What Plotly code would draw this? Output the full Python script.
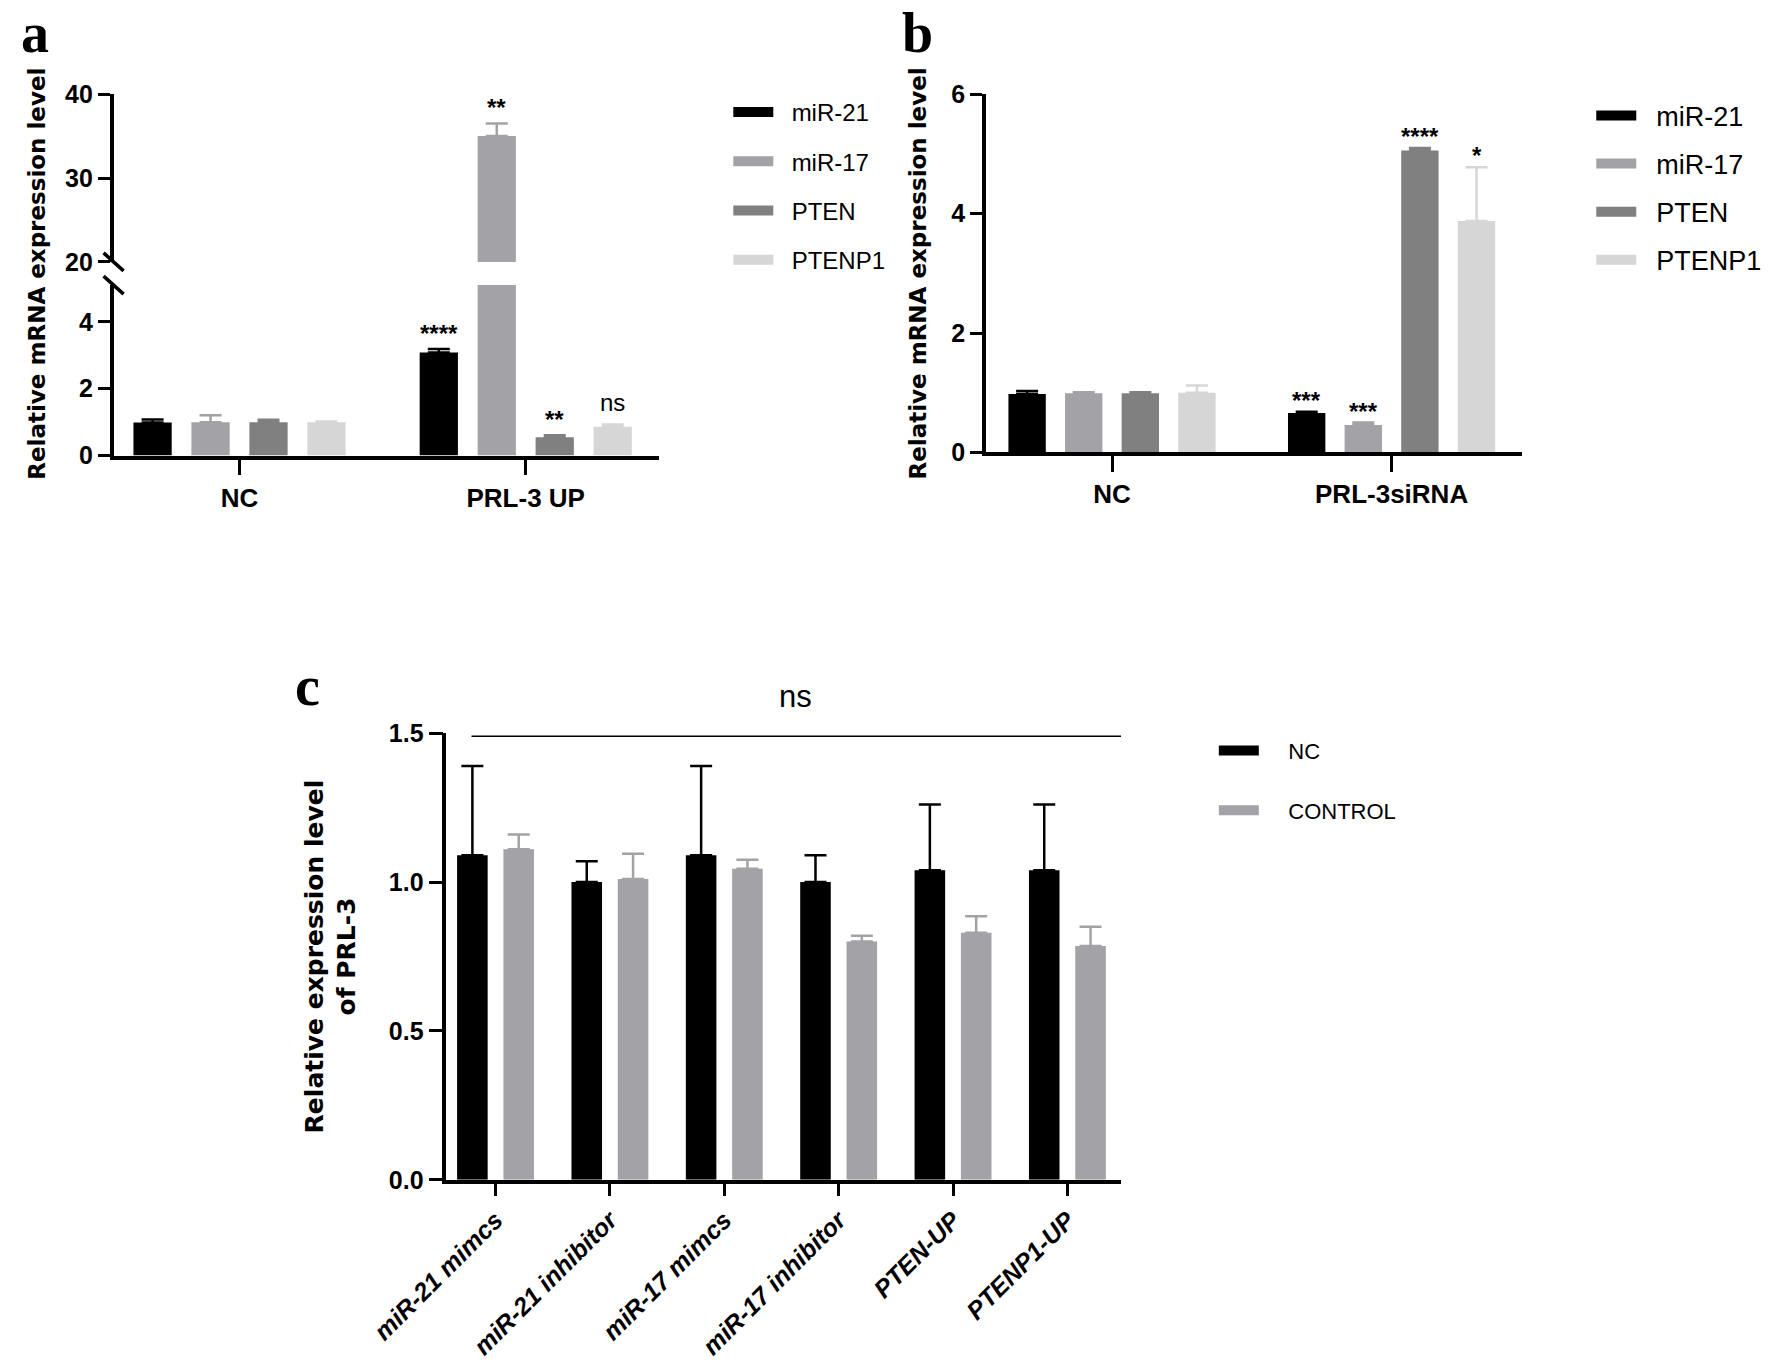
import plotly.graph_objects as go

# ---- panel a: PRL-3 overexpression ----
a_groups = ["NC", "PRL-3 UP"]
genes = ["miR-21", "miR-17", "PTEN", "PTENP1"]
a_mir21 = [0.99, 3.08]
a_mir21_err = [0.09, 0.11]
a_mir17 = [1.00, 35.0]
a_mir17_err = [0.21, 1.5]
a_pten = [1.00, 0.55]
a_pten_err = [0.07, 0.06]
a_ptenp1 = [1.00, 0.86]
a_ptenp1_err = [0.02, 0.07]
a_stars = ["****", "**", "**", "ns"]  # PRL-3 UP vs NC

# ---- panel b: PRL-3 knockdown ----
b_groups = ["NC", "PRL-3siRNA"]
b_mir21 = [0.98, 0.66]
b_mir21_err = [0.05, 0.02]
b_mir17 = [0.99, 0.46]
b_mir17_err = [0.02, 0.04]
b_pten = [0.99, 5.06]
b_pten_err = [0.02, 0.04]
b_ptenp1 = [1.00, 3.88]
b_ptenp1_err = [0.12, 0.90]
b_stars = ["***", "***", "****", "*"]

# ---- panel c: PRL-3 level ----
c_groups = ["miR-21 mimcs", "miR-21 inhibitor", "miR-17 mimcs",
            "miR-17 inhibitor", "PTEN-UP", "PTENP1-UP"]
c_nc = [1.09, 1.00, 1.09, 1.00, 1.04, 1.04]
c_nc_err = [0.30, 0.07, 0.30, 0.09, 0.22, 0.22]
c_ctrl = [1.11, 1.01, 1.045, 0.80, 0.83, 0.785]
c_ctrl_err = [0.05, 0.085, 0.03, 0.02, 0.055, 0.065]

gene_colors = ["#000000", "#a2a2a7", "#808080", "#d6d6d6"]
c_colors = ["#000000", "#a2a2a7"]

BARGAP = 0.19
GROUPGAP = 0.34
FONT = "Liberation Sans, Arial, sans-serif"
WIDE = "DejaVu Sans, Verdana, sans-serif"

fig = go.Figure()


def add_bars(groups, vals, errs, names, colors, xa, ya, legend, pad="\u00a0\u00a0",
             showlegend=True):
    for v, e, n, c in zip(vals, errs, names, colors):
        fig.add_trace(go.Bar(
            x=groups, y=v, name=n, marker=dict(color=c, line=dict(width=0)),
            error_y=dict(type="data", array=e, arrayminus=[0] * len(e), symmetric=False,
                         color=c, thickness=2.5, width=11),
            xaxis=xa, yaxis=ya, showlegend=False, legendgroup=legend + n))
        if showlegend:
            # wide swatch for the legend
            fig.add_trace(go.Scatter(
                x=[None], y=[None], mode="lines", name=pad + n, line=dict(color=c, width=14),
                legend=legend, legendgroup=legend + n, xaxis=xa, yaxis=ya))


a_vals = [a_mir21, a_mir17, a_pten, a_ptenp1]
a_errs = [a_mir21_err, a_mir17_err, a_pten_err, a_ptenp1_err]
add_bars(a_groups, a_vals, a_errs, genes, gene_colors, "x", "y", "legend")
add_bars(a_groups, a_vals, a_errs, genes, gene_colors, "x", "y2", "legend", showlegend=False)

b_vals = [b_mir21, b_mir17, b_pten, b_ptenp1]
b_errs = [b_mir21_err, b_mir17_err, b_pten_err, b_ptenp1_err]
add_bars(b_groups, b_vals, b_errs, genes, gene_colors, "x2", "y3", "legend2")

add_bars(c_groups, [c_nc, c_ctrl], [c_nc_err, c_ctrl_err], ["NC", "CONTROL"], c_colors,
         "x3", "y4", "legend3", pad="\u00a0\u00a0\u00a0\u00a0")

axis_common = dict(showgrid=False, zeroline=False, showline=True, linecolor="black",
                   linewidth=3.5, ticks="outside", tickwidth=3, tickcolor="black",
                   automargin=False)
tick_font = dict(family=FONT, size=25, color="black", weight="bold")

fig.update_layout(
    template="none",
    width=1772, height=1364, autosize=False,
    margin=dict(l=0, r=0, t=0, b=0, pad=0),
    paper_bgcolor="white", plot_bgcolor="white",
    barmode="group", bargap=BARGAP, bargroupgap=GROUPGAP,
    font=dict(family=FONT, color="black"),
    # panel a
    xaxis=dict(axis_common, domain=[0.0641, 0.3718], anchor="y", range=[-0.44, 1.465],
               ticklen=16, tickangle=0, tickfont=dict(tick_font, size=26)),
    yaxis=dict(axis_common, domain=[0.666, 0.791], anchor="x", range=[0, 5.1],
               tickvals=[0, 2, 4], ticklen=12, tickfont=tick_font),
    yaxis2=dict(axis_common, domain=[0.808, 0.931], anchor="x", range=[20, 40],
                tickvals=[20, 30, 40], ticklen=12, tickfont=tick_font),
    # panel b
    xaxis2=dict(axis_common, domain=[0.5564, 0.859], anchor="y3", range=[-0.451, 1.467],
                ticklen=16, tickangle=0, tickfont=dict(tick_font, size=26)),
    yaxis3=dict(axis_common, domain=[0.6683, 0.9308], anchor="x2", range=[0, 6],
                tickvals=[0, 2, 4, 6], ticklen=12, tickfont=tick_font,
                title=dict(text="Relative mRNA expression level", standoff=19,
                           font=dict(family=WIDE, size=23, weight="bold"))),
    # panel c
    xaxis3=dict(axis_common, domain=[0.2519, 0.6327], anchor="y4", range=[-0.43, 5.47],
                ticklen=12, tickangle=-45,
                tickfont=dict(family=FONT, size=25, color="black", weight="bold",
                              style="italic")),
    yaxis4=dict(axis_common, domain=[0.135, 0.4625], anchor="x3", range=[0, 1.5],
                tickvals=[0, 0.5, 1.0, 1.5], tickformat=".1f", ticklen=14, tickfont=tick_font,
                title=dict(text="Relative expression level<br>of PRL-3", standoff=27,
                           font=dict(family=WIDE, size=25, weight="bold"))),
    legend=dict(x=0.411, y=0.934, xanchor="left", yanchor="top", font=dict(size=24),
                tracegroupgap=15, itemwidth=40, bgcolor="rgba(0,0,0,0)"),
    legend2=dict(x=0.898, y=0.933, xanchor="left", yanchor="top", font=dict(size=27),
                 tracegroupgap=10, itemwidth=40, bgcolor="rgba(0,0,0,0)"),
    legend3=dict(x=0.685, y=0.465, xanchor="left", yanchor="top", font=dict(size=22),
                 tracegroupgap=28, itemwidth=40, bgcolor="rgba(0,0,0,0)"),
)

# axis title of panel a spans both segments
fig.add_annotation(text="Relative mRNA expression level", textangle=-90, xref="paper",
                   yref="paper", x=0.0212, y=0.799, xanchor="center", yanchor="middle",
                   showarrow=False, font=dict(family=WIDE, size=23, weight="bold"))

# axis break marks at the ends of the two y segments of panel a
for yv in [0.808, 0.791]:
    fig.add_shape(type="line", xref="paper", yref="paper", xsizemode="pixel",
                  ysizemode="pixel", xanchor=0.0641, yanchor=yv, x0=-10, x1=10, y0=9, y1=-9,
                  line=dict(color="black", width=3.5))


def star_labels(groups, vals, errs, stars, xa, ya_fn, gi=1, shift=0):
    n = len(vals)
    slot = (1 - BARGAP) / n
    for i, (v, e, s) in enumerate(zip(vals, errs, stars)):
        top = v[gi] + e[gi]
        ns = s == "ns"
        fig.add_annotation(
            x=gi + (i - (n - 1) / 2) * slot, y=top, xref=xa, yref=ya_fn(top),
            text=s, showarrow=False, yanchor="bottom", yshift=(6 if ns else 0) + shift,
            font=dict(family=FONT, size=24, weight="normal" if ns else "bold"))


star_labels(a_groups, a_vals, a_errs, a_stars, "x", lambda t: "y2" if t > 20 else "y")
star_labels(b_groups, b_vals, b_errs, b_stars, "x2", lambda t: "y3", shift=-4)

# ns bar across panel c
fig.add_shape(type="line", xref="x3", yref="y4", x0=-0.21, x1=5.47, y0=1.49, y1=1.49,
              line=dict(color="black", width=1.5))
fig.add_annotation(text="ns", xref="x3", yref="y4", x=2.62, y=1.49, showarrow=False,
                   yanchor="bottom", yshift=20, font=dict(family=FONT, size=31))

# panel letters
for letter, x, y in [("a", 0.0199, 0.976), ("b", 0.518, 0.976), ("c", 0.1737, 0.497)]:
    fig.add_annotation(text=letter, xref="paper", yref="paper", x=x, y=y,
                       xanchor="center", yanchor="middle", showarrow=False,
                       font=dict(family="Liberation Serif, Times New Roman, serif",
                                 size=56, weight="bold"))

fig.write_html("out.html", config={"displayModeBar": False},
               post_script="document.body.style.margin='0px';")
